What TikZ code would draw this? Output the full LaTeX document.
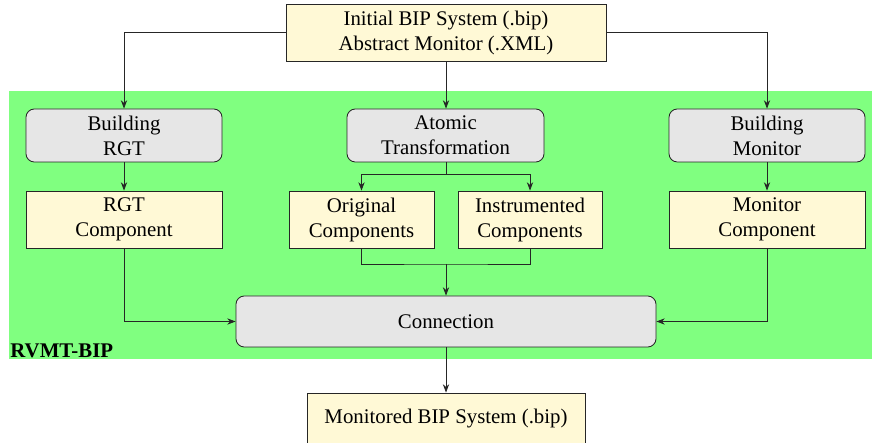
\documentclass[tikz,border=0pt]{standalone}
\usepackage{fontspec}
\setmainfont{Liberation Serif}
\usetikzlibrary{arrows.meta}
\definecolor{boxyellow}{RGB}{255,249,214}
\definecolor{boxgray}{RGB}{230,230,230}
\definecolor{regiongreen}{RGB}{128,255,128}
\begin{document}
\begin{tikzpicture}[x=0.48pt,y=-0.48pt,
  base/.style={draw=black!85, line width=0.4pt, inner sep=0pt, align=center, font=\fontsize{10}{12}\selectfont},
  databox/.style={base, fill=boxyellow, rectangle},
  procbox/.style={base, fill=boxgray, rounded corners=4pt},
  flow/.style={-{Stealth[length=4pt,width=3pt]}, line width=0.4pt, draw=black!85}]
\useasboundingbox (0,0) rectangle (872,443);
\clip (0,0) rectangle (872,443);
\fill[regiongreen] (9,91) rectangle (872,359);
\node[anchor=base west, font=\fontsize{10}{12}\selectfont\bfseries, inner sep=0pt] (lbl) at (10,358) {RVMT-BIP};

\node[databox, minimum width=153.6pt, minimum height=27.36pt] (init) at (446,32.5) {Initial BIP System (.bip)\\Abstract Monitor (.XML)};
\node[procbox, minimum width=94.08pt, minimum height=25.44pt] (bRGT) at (124,135.5) {Building\\RGT};
\node[procbox, minimum width=94.56pt, minimum height=25.44pt] (atomic) at (445.5,135.5) {Atomic\\Transformation};
\node[procbox, minimum width=94.08pt, minimum height=25.44pt] (bMon) at (767,135.5) {Building\\Monitor};
\node[databox, minimum width=94.08pt, minimum height=27.36pt] (rgtC) at (124,219.5) {RGT\\Component};
\node[databox, minimum width=69.6pt, minimum height=27.36pt] (orig) at (361.5,219.5) {Original\\Components};
\node[databox, minimum width=69.12pt, minimum height=27.36pt] (instr) at (530,219.5) {Instrumented\\Components};
\node[databox, minimum width=94.08pt, minimum height=27.36pt] (monC) at (767,219.5) {Monitor\\Component};
\node[procbox, minimum width=201.6pt, minimum height=24.48pt] (connect) at (446,321.5) {Connection};
\node[databox, minimum width=133.44pt, minimum height=24.48pt] (mon) at (446,418.5) {Monitored BIP System (.bip)};

\coordinate (split) at (446,174);
\coordinate (merge) at (446,264);

\draw[flow] (init.west) -| (bRGT.north);
\draw[flow] (init.east) -| (bMon.north);
\draw[flow] (init.south) -- (init.south |- atomic.north);
\draw[flow] (bRGT.south) -- (rgtC.north);
\draw[flow] (bMon.south) -- (monC.north);
\draw[line width=0.4pt, draw=black!85] (atomic.south -| split) -- (split);
\draw[flow] (split) -| (orig.north);
\draw[flow] (split) -| (instr.north);
\draw[line width=0.4pt, draw=black!85] (orig.south) |- (merge) -| (instr.south);
\draw[flow] (merge) -- (connect.north);
\draw[flow] (rgtC.south) |- (connect.west);
\draw[flow] (monC.south) |- (connect.east);
\draw[flow] (connect.south) -- (mon.north);
\end{tikzpicture}
\end{document}
